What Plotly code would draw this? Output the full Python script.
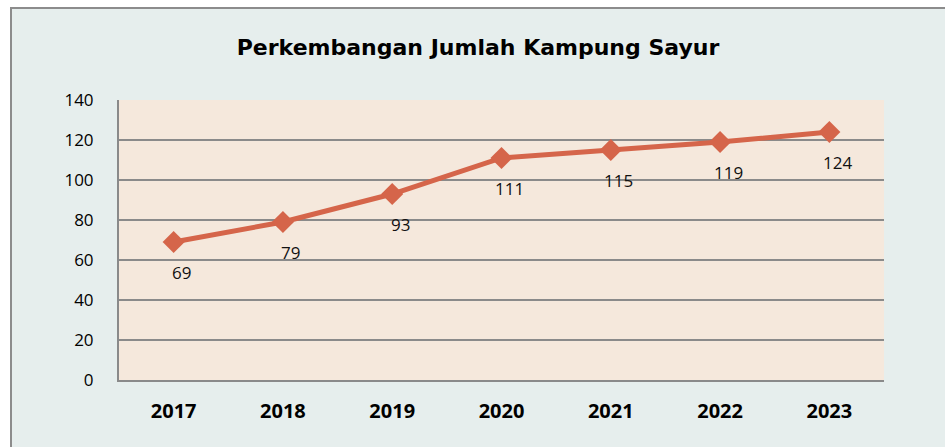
import plotly.graph_objects as go

years = ["2017", "2018", "2019", "2020", "2021", "2022", "2023"]
jumlah = [69, 79, 93, 111, 115, 119, 124]
y_ticks = [0, 20, 40, 60, 80, 100, 120, 140]

line_col = "#d5654a"
grid_col = "#8a8a8a"

L, T, W, H = 119, 100, 765, 280

fig = go.Figure()
fig.add_trace(go.Scatter(
    x=years, y=jumlah, mode="lines+markers",
    line=dict(color=line_col, width=5),
    marker=dict(symbol="diamond", size=17, color=line_col),
    hoverinfo="skip", showlegend=False,
))

# data labels sit below-right of each point
for i, v in enumerate(jumlah):
    fig.add_annotation(x=i, y=v, xref="x", yref="y", text=str(v), showarrow=False,
                       xshift=8, yshift=-30,
                       font=dict(family="Open Sans", size=17, color="#111111"))

fig.update_layout(
    width=945, height=447,
    margin=dict(l=L, r=945 - L - W, t=T, b=447 - T - H),
    paper_bgcolor="#e6eeed",
    plot_bgcolor="#f5e8dc",
    title=dict(text="<b>Perkembangan Jumlah Kampung Sayur</b>",
               x=(478 - L) / W, xref="paper", xanchor="center",
               y=1 - 47 / 447, yanchor="middle",
               font=dict(family="DejaVu Sans", size=22, color="#000000")),
    xaxis=dict(
        type="category", range=[-0.5, 6.5], showgrid=False,
        showline=True, linecolor=grid_col, linewidth=2,
        ticks="", ticklabelstandoff=12,
        tickfont=dict(family="Open Sans", size=20, color="#000000", weight="bold"),
    ),
    yaxis=dict(
        range=[0, 140], tickvals=y_ticks, showgrid=True,
        gridcolor=grid_col, gridwidth=2, zeroline=False,
        showline=True, linecolor=grid_col, linewidth=2,
        ticks="", ticklabelstandoff=20,
        tickfont=dict(family="Open Sans", size=17, color="#000000"),
    ),
    shapes=[
        # white strips outside the chart frame, plus the frame lines
        dict(type="rect", xref="paper", yref="paper", x0=-0.2, x1=(10 - L) / W,
             y0=-0.4, y1=1.5, fillcolor="white", line=dict(width=0), layer="above"),
        dict(type="rect", xref="paper", yref="paper", x0=-0.2, x1=1.2,
             y0=1 + (T - 7) / H, y1=1.5, fillcolor="white", line=dict(width=0), layer="above"),
        dict(type="line", xref="paper", yref="paper", x0=(11 - L) / W, x1=(11 - L) / W,
             y0=-0.4, y1=1 + (T - 8) / H, line=dict(color="#8c8c8c", width=2), layer="above"),
        dict(type="line", xref="paper", yref="paper", x0=(10 - L) / W, x1=1.2,
             y0=1 + (T - 8) / H, y1=1 + (T - 8) / H, line=dict(color="#8c8c8c", width=2), layer="above"),
    ],
)

fig.write_html("out.html", config={"displayModeBar": False},
               post_script="document.body.style.margin='0';")
